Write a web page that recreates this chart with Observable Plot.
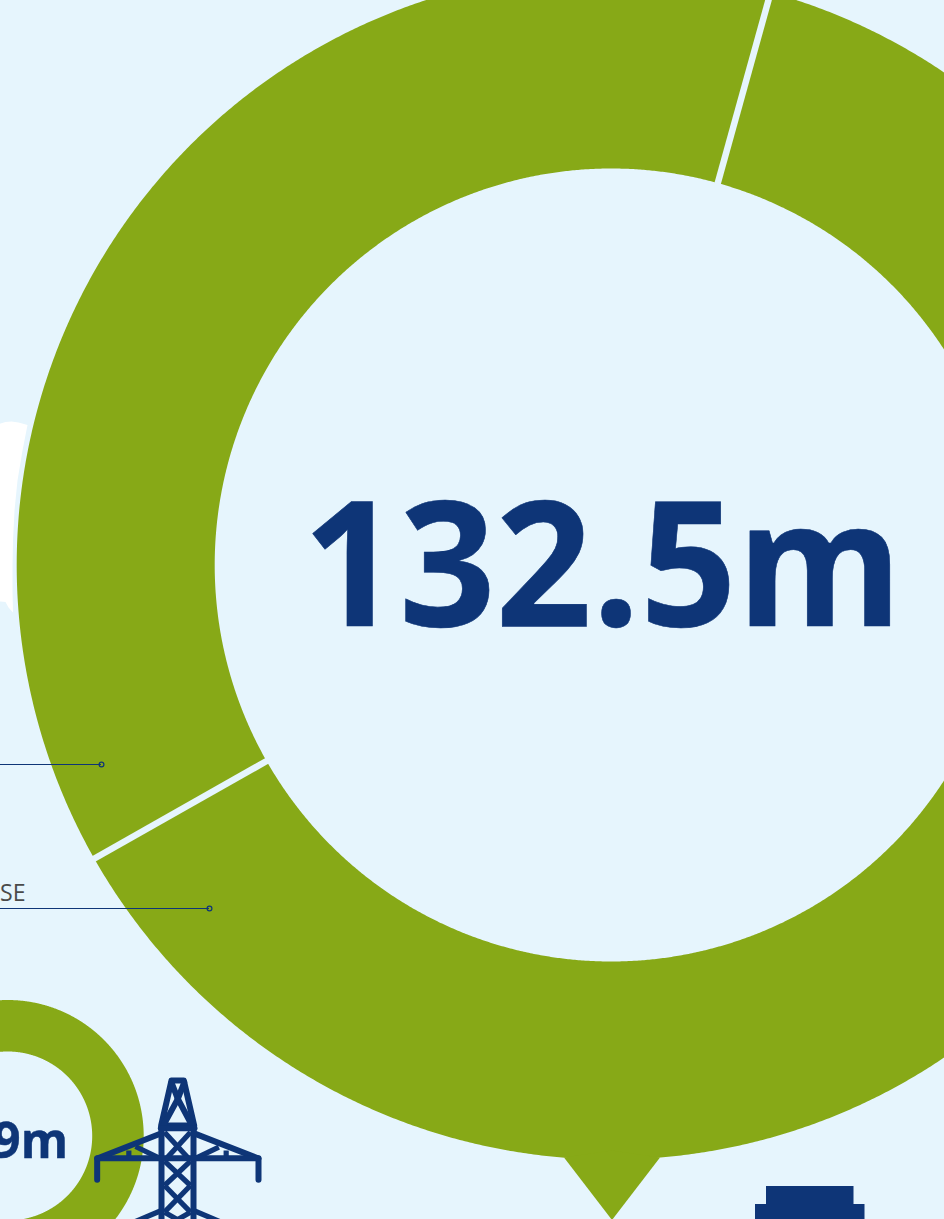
<!DOCTYPE html>
<html><head><meta charset="utf-8">
<script src="https://cdn.jsdelivr.net/npm/d3@7"></script>
<script src="https://cdn.jsdelivr.net/npm/@observablehq/plot@0.6"></script>
<style>html,body{margin:0;padding:0;background:#e6f5fd;overflow:hidden}svg{display:block}</style>
</head><body><div id="chart"></div>
<script>
const sliceNames = ["Remainder", "Upper left"];
const sliceValues = [82.8, 49.7];
const totalLabel = "132.5m";
const smallLabel = "9m";
const partLabel = "SE";
const startDeg = 15.5;

const W = 944, H = 1219, BG = "#e6f5fd", GREEN = "#87a917", NAVY = "#0e3577";
const big = {cx: 611.2, cy: 565, r0: 396.5, r1: 594.5};
const small = {cx: 7.7, cy: 1136, r0: 84.5, r1: 136};

const pt = (c, r, deg) => {
  const a = deg * Math.PI / 180;
  return [c.cx + r * Math.sin(a), c.cy - r * Math.cos(a)];
};
const ringRows = (c, from, to, key) => d3.range(from, to + 0.001, 0.25).map(d => {
  const [x1, y1] = pt(c, c.r0, d), [x2, y2] = pt(c, c.r1, d);
  return {x1, y1, x2, y2, key};
});
const total = d3.sum(sliceValues);
let acc = startDeg;
const slices = sliceValues.map((v, i) => {
  const from = acc, to = acc + v / total * 360;
  acc = to;
  return {name: sliceNames[i], from, to};
});
const bigRows = slices.flatMap(s => ringRows(big, s.from, s.to, s.name));
const smallRows = ringRows(small, 0, 360, "small");
const gaps = slices.map(s => {
  const [x1, y1] = pt(big, big.r0 - 2, s.from), [x2, y2] = pt(big, big.r1 + 2, s.from);
  return {x1, y1, x2, y2};
});

const pointer = [[563.5, 1157], [611.5, 1219.5], [659.5, 1157], [611, 1150]].map(([x, y]) => ({x, y}));
const whiteShape = [[-2,424],[0,423],[5,421.5],[11,421],[18,422],[27,424.5],[22,450],[17,480],[14,510],[12.5,540],[12,565],[12,590],[12.5,612],[8,607],[5,601.5],[0,601],[-2,601]].map(([x, y]) => ({x, y}));

const z = (p) => p.map(([x, y]) => [x / 3 + 90, y / 3 + 1070]);
const towerThin = [
  [[222,185],[300,270]], [[300,185],[222,270]],
  [[222,272],[300,345]], [[300,272],[222,345]],
  [[222,345],[300,425]], [[300,345],[222,425]],
  [[222,425],[300,470]], [[300,425],[222,470]],
  [[115,240],[115,262]], [[407,240],[407,262]],
  [[205,262],[135,228]], [[318,262],[385,230]],
  [[130,455],[213,420]], [[392,455],[309,420]]
].map(z);
const towerThick = [
  [[213,170],[213,460]], [[309,170],[309,460]],
  [[243,30],[280,30],[311,165],[212,165],[243,30]],
  [[243,36],[262,85],[281,36]],
  [[262,85],[216,170]], [[262,85],[307,170]],
  [[211,173],[312,173]],
  [[20,328],[20,264],[213,188]],
  [[504,328],[504,264],[309,188]],
  [[20,263],[504,263]]
].map(z);
const toRows = (paths) => paths.flatMap((p, i) => p.map(([x, y]) => ({x, y, i})));

const rects = [{x1:766,x2:853.5,y1:1186,y2:1205},{x1:755,x2:864.5,y1:1204,y2:1225}];
const leaders = [{x:101,y:764},{x:209,y:908}];

const narrow = 0.964;
const fig = Plot.plot({
  width: W, height: H, margin: 0,
  x: {domain: [0, W], range: [0, W], axis: null},
  y: {domain: [0, H], range: [0, H], axis: null},
  style: {background: BG},
  marks: [
    Plot.line(whiteShape, {x:"x", y:"y", fill:"#fff", stroke:"none"}),
    Plot.area(bigRows, {x1:"x1", y1:"y1", x2:"x2", y2:"y2", z:"key", fill:GREEN}),
    Plot.line(pointer, {x:"x", y:"y", fill:GREEN, stroke:"none"}),
    Plot.link(gaps, {x1:"x1", y1:"y1", x2:"x2", y2:"y2", stroke:BG, strokeWidth:6.5}),
    Plot.area(smallRows, {x1:"x1", y1:"y1", x2:"x2", y2:"y2", z:"key", fill:GREEN}),
    Plot.line(toRows(towerThin), {x:"x", y:"y", z:"i", stroke:NAVY, strokeWidth:5.2, strokeLinecap:"butt", strokeLinejoin:"round"}),
    Plot.line(toRows(towerThick), {x:"x", y:"y", z:"i", stroke:NAVY, strokeWidth:6, strokeLinecap:"round", strokeLinejoin:"round"}),
    Plot.rect(rects, {x1:"x1", x2:"x2", y1:"y1", y2:"y2", fill:NAVY}),
    Plot.ruleY(leaders, {x1:0, x2:"x", y:"y", stroke:NAVY, strokeWidth:1}),
    Plot.dot(leaders, {x:"x", y:"y", r:2.4, stroke:NAVY, strokeWidth:1.2, fill:"none"}),
    Plot.text([totalLabel], {x:602, y:625, text:d=>d, textAnchor:"middle", lineAnchor:"bottom", fontFamily:"Open Sans", fontWeight:700, fontSize:175, fill:NAVY, stroke:NAVY, strokeWidth:0.6, className:"squeeze"}),
    Plot.text([smallLabel], {x:67.5, y:1157, text:d=>d, textAnchor:"end", lineAnchor:"bottom", fontFamily:"Open Sans", fontWeight:700, fontSize:50, fill:NAVY, stroke:NAVY, strokeWidth:0.5, className:"squeeze"}),
    Plot.text([partLabel], {x:25, y:900.5, text:d=>d, textAnchor:"end", lineAnchor:"bottom", fontFamily:"Open Sans", fontWeight:400, fontSize:24, fill:"#4a4a4a", className:"squeeze"})
  ]
});
document.getElementById("chart").appendChild(fig);
d3.select(fig).selectAll(".squeeze text").each(function() {
  d3.select(this).attr("textLength", this.getComputedTextLength() * narrow).attr("lengthAdjust", "spacingAndGlyphs");
});
</script></body></html>
